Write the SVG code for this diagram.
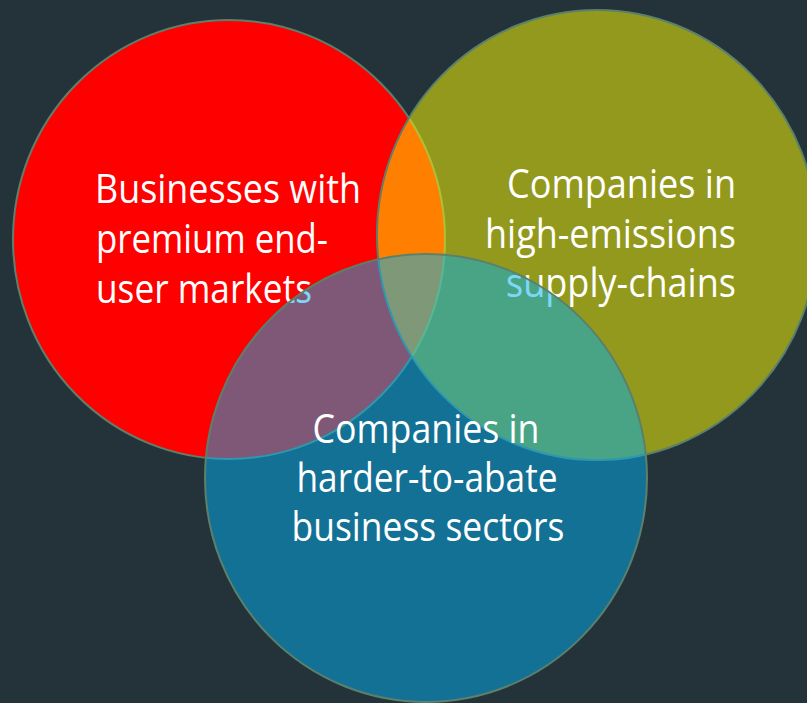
<svg xmlns="http://www.w3.org/2000/svg" width="807" height="703" viewBox="0 0 807 703">
  <style>
    .ring { stroke: #5b806c; stroke-width: 2; }
    .label { font-family: "Open Sans", "Noto Sans", "Liberation Sans", sans-serif; font-size: 40px; fill: #ffffff; }
  </style>
  <rect x="0" y="0" width="807" height="703" fill="#24333a"/>

  <!-- premium end-user markets -->
  <g id="premium-markets">
    <ellipse class="ring" cx="229" cy="239.5" rx="216" ry="219.5" fill="#ff0000"/>
    <text class="label" x="95" y="203" textLength="266" lengthAdjust="spacingAndGlyphs">Businesses with</text>
    <text class="label" x="96" y="253" textLength="232" lengthAdjust="spacingAndGlyphs">premium end-</text>
    <text class="label" x="96" y="303" textLength="216" lengthAdjust="spacingAndGlyphs">user markets</text>
  </g>

  <!-- high-emissions supply chains -->
  <g id="supply-chains">
    <ellipse class="ring" cx="597" cy="235" rx="220" ry="225" fill="#ffff00" fill-opacity="0.5"/>
    <text class="label" x="736" y="198" text-anchor="end" textLength="229" lengthAdjust="spacingAndGlyphs">Companies in</text>
    <text class="label" x="736" y="248" text-anchor="end" textLength="251" lengthAdjust="spacingAndGlyphs">high-emissions</text>
    <text class="label" x="736" y="297" text-anchor="end" textLength="230" lengthAdjust="spacingAndGlyphs">supply-chains</text>
  </g>

  <!-- harder-to-abate sectors -->
  <g id="hard-to-abate">
    <ellipse class="ring" cx="426" cy="478" rx="221" ry="224" fill="#00b0f0" fill-opacity="0.5"/>
    <text class="label" x="426" y="443" text-anchor="middle" textLength="227" lengthAdjust="spacingAndGlyphs">Companies in</text>
    <text class="label" x="427" y="492" text-anchor="middle" textLength="261" lengthAdjust="spacingAndGlyphs">harder-to-abate</text>
    <text class="label" x="428" y="541" text-anchor="middle" textLength="273" lengthAdjust="spacingAndGlyphs">business sectors</text>
  </g>

  <g id="connectors"/>
</svg>
